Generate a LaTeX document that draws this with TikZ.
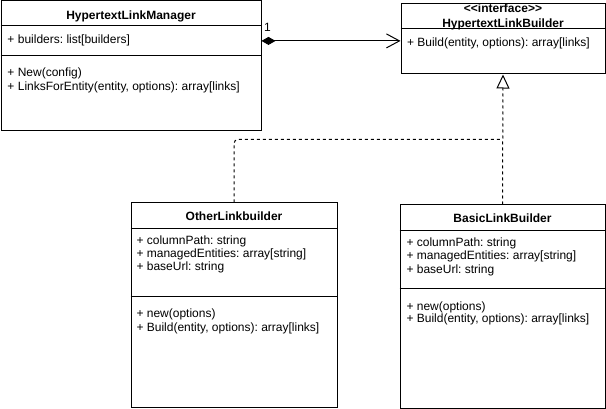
\documentclass[tikz,border=0pt]{standalone}
\usepackage{fontspec}
\setmainfont{Liberation Sans}
\usetikzlibrary{arrows.meta,calc}
\frenchspacing
\begin{document}
\begin{tikzpicture}[x=1pt, y=-1pt, line width=1pt,
        font=\fontsize{12}{13.5}\selectfont,
        class/.style={draw, rectangle, anchor=north west, inner sep=0pt},
        title/.style={font=\fontsize{12}{13.5}\selectfont\bfseries, anchor=base, inner sep=0pt},
        member/.style={anchor=base west, inner sep=0pt},
        comp/.style={{Diamond[length=14pt,width=8pt]}-{Straight Barb[length=13pt,width=14pt]}},
        realize/.style={-{Triangle[open,fill=white,length=14pt,width=13pt]}, dashed}]
    \useasboundingbox (0,0) rectangle (606,409);
    \node[class, minimum width=260pt, minimum height=130pt] (mgr) at (0.5,0.5) {};
    \node[class, minimum width=204pt, minimum height=70pt] (iface) at (400.5,3.5) {};
    \node[class, minimum width=206pt, minimum height=204pt] (other) at (130.5,202.5) {};
    \node[class, minimum width=205pt, minimum height=203pt] (basic) at (399.5,204.5) {};
    \foreach \n/\d in {mgr/25.5, mgr/55, iface/25.5, other/26, other/94, basic/26, basic/84}
        \draw ($(\n.north west)+(0,\d)$) -- ($(\n.north east)+(0,\d)$);
    \node[title] (mgr-title) at ($(mgr.north)+(0,19)$) {HypertextLinkManager};
    \node[title] (iface-stereo) at ($(iface.north)+(0,9)$) {{<}{<}interface{>}{>}};
    \node[title] (iface-title) at ($(iface.north)+(0,24)$) {HypertextLinkBuilder};
    \node[title] (other-title) at ($(other.north)+(0,18.5)$) {OtherLinkbuilder};
    \node[title] (basic-title) at ($(basic.north)+(0,18.5)$) {BasicLinkBuilder};
    \foreach \y/\txt [count=\i] in {43.5/{+ builders: list[builders]}, 76.5/{+ New(config)},
            90.5/{+ LinksForEntity(entity, options): array[links]}}
        \node[member] (mgr-m\i) at ($(mgr.north west)+(6.5,\y)$) {\txt};
    \node[member] (iface-m1) at ($(iface.north west)+(6,43.5)$) {+ Build(entity, options): array[links]};
    \foreach \y/\txt [count=\i] in {42.5/{+ columnPath: string}, 55.5/{+ managedEntities: array[string]},
            68.5/{+ baseUrl: string}, 115.5/{+ new(options)}, 128.5/{+ Build(entity, options): array[links]}}
        \node[member] (other-m\i) at ($(other.north west)+(5.5,\y)$) {\txt};
    \foreach \y/\txt [count=\i] in {42.5/{+ columnPath: string}, 55.5/{+ managedEntities: array[string]},
            68.5/{+ baseUrl: string}, 105.5/{+ new(options)}, 118.5/{+ Build(entity, options): array[links]}}
        \node[member] (basic-m\i) at ($(basic.north west)+(6.5,\y)$) {\txt};
    \coordinate (join) at ($(iface.south)!.5!(basic.north)$);
    \draw[comp] (mgr-m1.west -| mgr.east) -- node[pos=0, anchor=base west, xshift=2pt, yshift=9pt, inner sep=0pt] (mult) {1} (mgr-m1.west -| iface.west);
    \draw[realize] (basic.north) -- (iface.south);
    \draw[dashed, rounded corners=4pt] (other.north) |- (join);
\end{tikzpicture}
\end{document}
